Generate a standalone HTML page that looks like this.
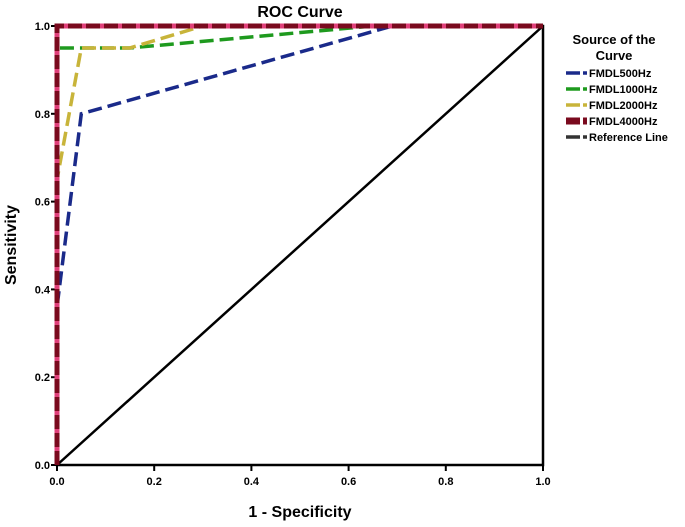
<!DOCTYPE html>
<html><head><meta charset="utf-8"><style>
body{margin:0;background:#fff;font-family:"Liberation Sans",Arial,sans-serif}
svg text{font-family:"Liberation Sans",Arial,sans-serif;font-weight:bold}
</style></head><body>
<svg id="chart" width="685" height="522">
<rect width="685" height="522" fill="#fff"/>
<text x="300" y="17" font-size="16" text-anchor="middle">ROC Curve</text>
<g id="axes"></g>
<g id="series"></g>
<text x="300" y="517" font-size="16" text-anchor="middle">1 - Specificity</text>
<text transform="translate(16,245) rotate(-90)" font-size="16" text-anchor="middle">Sensitivity</text>
<g id="legend">
<text x="614" y="44" font-size="13" text-anchor="middle" font-weight="normal">Source of the</text>
<text x="614" y="60" font-size="13" text-anchor="middle" font-weight="normal">Curve</text>
</g>
</svg>
<script>
const xTicks=[0,0.2,0.4,0.6,0.8,1.0];
const yTicks=[0,0.2,0.4,0.6,0.8,1.0];
const seriesNames=["FMDL500Hz","FMDL1000Hz","FMDL2000Hz","FMDL4000Hz","Reference Line"];
const fmdl500X=[0,0,0.05,0.69,1];
const fmdl500Y=[0,0.36,0.8,1,1];
const fmdl1000X=[0,0,0.15,0.65,1];
const fmdl1000Y=[0,0.95,0.95,1,1];
const fmdl2000X=[0,0,0.05,0.15,0.3,1];
const fmdl2000Y=[0,0.65,0.95,0.95,1,1];
const fmdl4000X=[0,0,1];
const fmdl4000Y=[0,1,1];
const refX=[0,1];
const refY=[0,1];

const NS="http://www.w3.org/2000/svg";
const X0=57,X1=543,Y0=465,Y1=26;
const sx=v=>X0+v*(X1-X0), sy=v=>Y0-v*(Y0-Y1);
function mk(tag,attrs,parent){const e=document.createElementNS(NS,tag);for(const k in attrs)e.setAttribute(k,attrs[k]);parent.appendChild(e);return e;}
const axes=document.getElementById('axes');
const frame=mk('rect',{x:X0,y:Y1,width:X1-X0,height:Y0-Y1,fill:'none',stroke:'#000','stroke-width':2.5},axes);


xTicks.forEach(t=>{
  const l=mk('line',{x1:sx(t),x2:sx(t),y1:Y0,y2:Y0+6,stroke:'#000','stroke-width':2},axes);
  
  
  const tx=mk('text',{x:sx(t),y:Y0+20,'font-size':11,'text-anchor':'middle'},axes);
  tx.textContent=t.toFixed(1);
  
  
});
yTicks.forEach(t=>{
  const l=mk('line',{x1:X0-6,x2:X0,y1:sy(t),y2:sy(t),stroke:'#000','stroke-width':2},axes);
  
  
  const tx=mk('text',{x:X0-7,y:sy(t)+4,'font-size':11,'text-anchor':'end'},axes);
  tx.textContent=t.toFixed(1);
  
  
});
const sg=document.getElementById('series');
function pts(xs,ys){return xs.map((x,i)=>sx(x)+','+sy(ys[i])).join(' ');}
const styles=[
 {xs:refX,ys:refY,c:'#000',w:2.5,d:'none',n:'reference-line'},
 {xs:fmdl500X,ys:fmdl500Y,c:'#1a2a8a',w:3.5,d:'14 6',n:'fmdl500-line'},
 {xs:fmdl1000X,ys:fmdl1000Y,c:'#1e9a1e',w:3.5,d:'14 6',n:'fmdl1000-line'},
 {xs:fmdl2000X,ys:fmdl2000Y,c:'#c8b43a',w:3.5,d:'14 6',n:'fmdl2000-line'},
 {xs:fmdl4000X,ys:fmdl4000Y,c:'#7a0a1e',w:5,d:'14 4',n:'fmdl4000-line'}
];
styles.forEach(s=>{
  if(s.n==='fmdl4000-line'){
    const bg=mk('polyline',{points:pts(s.xs,s.ys),fill:'none',stroke:'#e0407a','stroke-width':5},sg);
    
    
  }
  const p=mk('polyline',{points:pts(s.xs,s.ys),fill:'none',stroke:s.c,'stroke-width':s.w,'stroke-dasharray':s.d},sg);
  
  
});
const lg=document.getElementById('legend');
const lc=['#1a2a8a','#1e9a1e','#c8b43a','#7a0a1e','#333'];
seriesNames.forEach((n,i)=>{
  const y=73+i*16;
  const w=i===3?7:3.5;
  const a=mk('line',{x1:566,x2:580,y1:y,y2:y,stroke:lc[i],'stroke-width':w},lg);
  
  
  const b=mk('line',{x1:583,x2:587,y1:y,y2:y,stroke:lc[i],'stroke-width':w},lg);
  
  
  const t=mk('text',{x:589,y:y+4,'font-size':11},lg);
  t.textContent=n;
  
  
});
</script>
</body></html>
